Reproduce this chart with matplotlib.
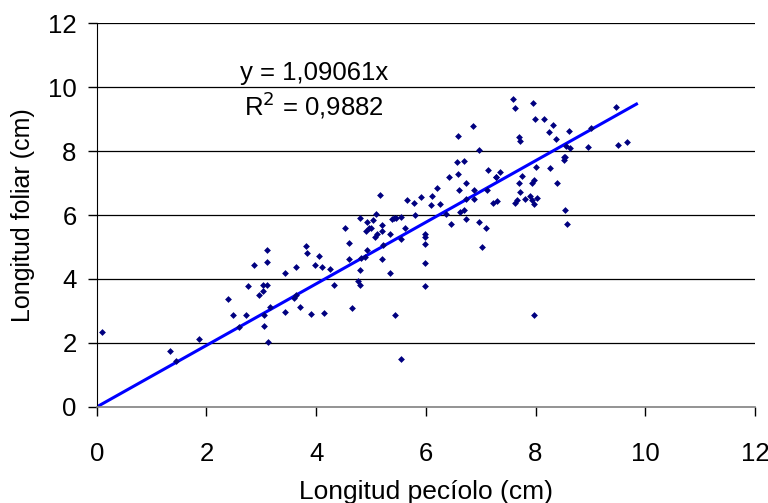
import matplotlib
matplotlib.use("Agg")
import matplotlib.pyplot as plt

petiole = [0.10, 1.33, 1.44, 1.87, 2.39, 2.48, 2.59, 2.72, 2.76, 2.86, 2.96, 3.03, 3.03, 3.04, 3.04,
           3.10, 3.10, 3.10, 3.13, 3.15, 3.44, 3.44, 3.59, 3.63, 3.63, 3.71, 3.81, 3.84, 3.91, 3.97,
           4.05, 4.10, 4.14, 4.25, 4.32, 4.52, 4.59, 4.59, 4.65, 4.77, 4.80, 4.80, 4.80, 4.81, 4.89,
           4.90, 4.92, 4.93, 4.97, 5.00, 5.03, 5.08, 5.10, 5.11, 5.17, 5.20, 5.20, 5.21, 5.20, 5.34,
           5.34, 5.39, 5.42, 5.44, 5.46, 5.54, 5.54, 5.55, 5.62, 5.65, 5.78, 5.80, 5.92, 5.99, 5.99,
           5.99, 5.99, 5.99, 6.10, 6.12, 6.21, 6.25, 6.36, 6.43, 6.46, 6.57, 6.58, 6.59, 6.60, 6.63,
           6.69, 6.69, 6.73, 6.73, 6.73, 6.86, 6.87, 6.87, 6.97, 6.97, 7.03, 7.10, 7.12, 7.14, 7.23,
           7.27, 7.28, 7.30, 7.35, 7.58, 7.62, 7.63, 7.66, 7.69, 7.69, 7.71, 7.71, 7.76, 7.80, 7.89,
           7.93, 7.94, 7.96, 7.97, 7.97, 7.97, 7.99, 8.00, 8.02, 8.16, 8.24, 8.27, 8.31, 8.37, 8.39,
           8.51, 8.52, 8.54, 8.54, 8.55, 8.57, 8.61, 8.63, 8.95, 9.02, 9.46, 9.50, 9.66]
leaf = [2.34, 1.76, 1.45, 2.13, 3.39, 2.86, 2.49, 2.88, 3.77, 4.45, 3.49, 3.63, 3.81, 2.88, 2.54,
        3.80, 4.52, 4.92, 2.04, 3.12, 4.18, 2.98, 3.42, 4.38, 3.49, 3.12, 5.02, 4.80, 2.92, 4.45,
        4.73, 4.39, 2.95, 4.32, 3.82, 5.60, 5.13, 4.61, 3.09, 3.95, 3.81, 4.28, 5.91, 4.66, 4.68,
        5.50, 4.92, 5.77, 5.60, 5.61, 5.84, 5.32, 6.02, 5.42, 6.62, 5.69, 5.51, 5.07, 4.61, 5.40,
        4.18, 5.89, 5.90, 2.86, 5.90, 5.24, 5.94, 1.49, 5.60, 6.46, 6.39, 5.99, 6.56, 5.41, 5.31,
        5.08, 4.51, 3.79, 6.30, 6.60, 6.83, 6.35, 6.02, 7.20, 5.71, 7.66, 7.29, 8.47, 6.79, 6.08,
        6.15, 7.68, 7.00, 5.87, 6.49, 8.78, 6.49, 6.79, 8.02, 5.77, 5.01, 5.60, 6.77, 7.40, 6.38,
        7.19, 7.18, 6.43, 7.33, 9.62, 9.35, 6.38, 6.46, 8.44, 7.00, 8.30, 6.72, 7.23, 6.49, 6.60,
        6.48, 7.00, 9.51, 7.11, 6.33, 2.88, 9.01, 7.50, 6.52, 9.01, 8.61, 7.47, 8.80, 8.38, 7.00,
        7.73, 7.83, 7.81, 6.15, 8.15, 5.71, 8.63, 8.11, 8.12, 8.71, 9.38, 8.20, 8.27]

# trend line as drawn in the chart (endpoints)
fit_x = [0.0, 9.84]
fit_y = [0.0, 9.47]
equation_text = 'y = 1,09061x'
r2_text = 'R$^2$ = 0,9882'
x_ticks = [0, 2, 4, 6, 8, 10, 12]
y_ticks = [0, 2, 4, 6, 8, 10, 12]

plt.rcParams['font.family'] = ['Liberation Sans', 'DejaVu Sans']

fig = plt.figure(figsize=(7.68, 5.03), dpi=100)
ax = fig.add_axes([0.126, 0.191, 0.857, 0.763])

for yv in y_ticks[1:]:
    ax.axhline(yv, color='black', lw=0.9, zorder=0)

ax.scatter(petiole, leaf, marker='D', s=12, color='#000080', zorder=3, linewidths=0)
ax.plot(fit_x, fit_y, color='#0000FF', lw=2.2, zorder=2)

ax.set_xlim(0, 12)
ax.set_ylim(0, 12)
ax.set_xticks(x_ticks)
ax.set_yticks(y_ticks)
ax.tick_params(labelsize=18.5, length=6.5, width=1, direction='out')
ax.tick_params(axis='y', pad=8)
ax.tick_params(axis='x', pad=19)
ax.spines['top'].set_visible(False)
ax.spines['right'].set_visible(False)
ax.spines['bottom'].set_color('#808080')
ax.spines['bottom'].set_linewidth(1.2)

ax.set_xlabel('Longitud pecíolo (cm)', fontsize=19, labelpad=10)
ax.set_ylabel('Longitud foliar (cm)', fontsize=18, labelpad=9)

ax.text(3.96, 10.44, equation_text, fontsize=18.5, ha='center', va='center')
ax.text(3.96, 9.42, r2_text, fontsize=18.5, ha='center', va='center')

fig.savefig('out.png', dpi=100)
